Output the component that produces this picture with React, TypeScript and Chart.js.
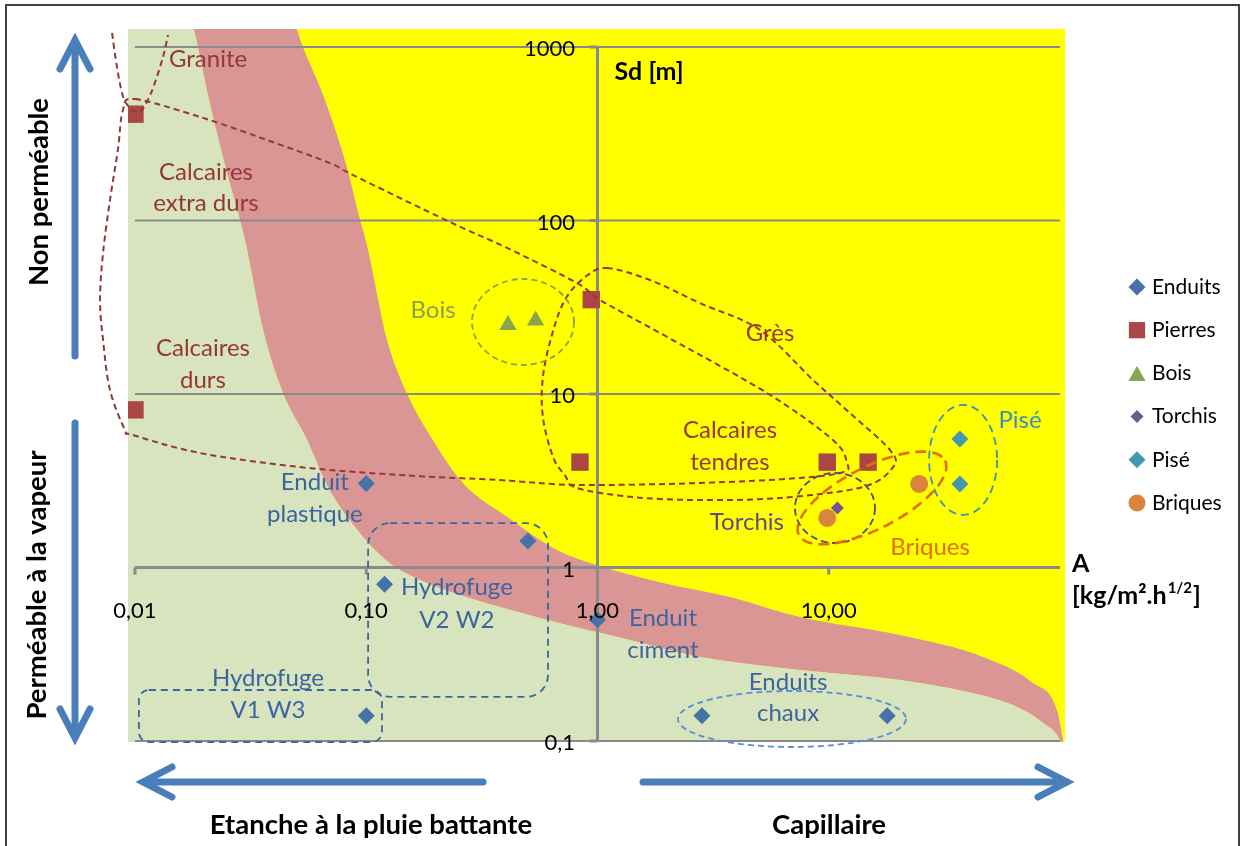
import React, { useEffect, useRef } from 'react';
import { Chart, registerables } from 'chart.js';

Chart.register(...registerables);

const FONT = 'Lato, "Open Sans", "DejaVu Sans", sans-serif';

// ---- axes ----
const xMin = 0.00933;
const xMax = 105.1;
const yMin = 0.0987;
const yMax = 1270;
const xTickValues = [0.01, 0.1, 1, 10];
const xTickLabels = ['0,01', '0,10', '1,00', '10,00'];
const yTickValues = [0.1, 1, 10, 100, 1000];
const yTickLabels = ['0,1', '1', '10', '100', '1000'];
const yLabelAnchor = 0.8; // x value where the Sd tick labels end

// ---- background zones ----
const greenEdgeX = [0.00933, 0.0163, 0.018, 0.0209, 0.0248, 0.0299, 0.0358, 0.0437, 0.0555, 0.0676, 0.0894, 0.121, 0.171, 0.254, 0.379, 0.709, 1.38, 2.78, 7.51, 20.3, 39.6, 65.2, 84.5, 100, 106.2];
const greenEdgeY = [4137, 1916, 1253, 495, 196, 77.2, 23.4, 10.1, 5.43, 2.99, 1.71, 1.11, 0.847, 0.694, 0.592, 0.472, 0.382, 0.305, 0.257, 0.225, 0.192, 0.157, 0.127, 0.101, 0.078];
const pinkEdgeX = [0.00933, 0.0191, 0.0459, 0.0502, 0.0663, 0.0825, 0.094, 0.1007, 0.123, 0.15, 0.194, 0.262, 0.406, 0.668, 0.995, 1.92, 3.74, 7.51, 20.3, 46.5, 76.4, 97.0, 103, 106.2];
const pinkEdgeY = [5395, 3173, 1968, 1253, 495, 203, 101, 72.3, 20.5, 10.1, 5.43, 3.07, 1.96, 1.26, 1.03, 0.814, 0.676, 0.518, 0.408, 0.305, 0.216, 0.151, 0.101, 0.078];

// ---- series ----
const enduitsX = [0.1, 0.5, 0.12, 1, 0.1, 2.83, 17.9];
const enduitsY = [3.05, 1.42, 0.8, 0.5, 0.14, 0.14, 0.14];
const pierresX = [0.01, 0.01, 0.94, 0.84, 9.85, 14.8];
const pierresY = [410, 8.1, 35, 4.05, 4.05, 4.05];
const boisX = [0.41, 0.54];
const boisY = [25, 26.5];
const torchisX = [10.9];
const torchisY = [2.2];
const piseX = [36.9, 36.9];
const piseY = [5.5, 3.03];
const briquesX = [24.6, 9.85];
const briquesY = [3.03, 1.93];

const RED = '#953735';
const OLIVE = '#8CA046';
const BLUE = '#3C65A0';
const PURPLE = '#5F4A8B';
const ORANGE = '#E46C0A';
const TEAL = '#3A93B3';

// ---- annotations (log10 coordinates) ----
const granitePath = [[-2.099, 3.081], [-2.078, 2.885], [-2.056, 2.735], [-2.039, 2.677], [-2.009, 2.637], [-1.978, 2.625], [-1.944, 2.695], [-1.914, 2.793], [-1.879, 2.942], [-1.857, 3.069]];
const calcairesPath = [[-2.0, 2.7], [-1.719, 2.597], [-1.429, 2.464], [-1.157, 2.331], [-1.057, 2.262], [-0.638, 1.991], [-0.391, 1.842], [-0.089, 1.64], [0.011, 1.542], [0.301, 1.329], [0.733, 1.006], [1.018, 0.735], [1.079, 0.602], [1.062, 0.55], [0.876, 0.516], [0.443, 0.487], [-0.089, 0.476], [-0.422, 0.504], [-0.854, 0.533], [-1.286, 0.579], [-1.719, 0.66], [-2.009, 0.764], [-2.043, 0.793], [-2.108, 1.023], [-2.138, 1.311], [-2.151, 1.542], [-2.138, 1.813], [-2.108, 2.118], [-2.074, 2.406], [-2.052, 2.637]];
const gresPath = [[0.041, 1.726], [0.227, 1.657], [0.443, 1.524], [0.703, 1.369], [0.932, 1.081], [1.092, 0.89], [1.265, 0.677], [1.278, 0.579], [1.148, 0.464], [0.789, 0.401], [0.443, 0.389], [0.154, 0.406], [-0.089, 0.458], [-0.141, 0.533], [-0.192, 0.637], [-0.236, 0.867], [-0.236, 1.098], [-0.197, 1.34], [-0.141, 1.542], [-0.054, 1.674]];

const ellipses = [
  { lx: -0.322, ly: 1.415, rx: 51, ry: 43, rot: 0, color: OLIVE, width: 1.8, dash: [6, 4] },
  { lx: 1.027, ly: 0.343, rx: 40, ry: 35, rot: 0, color: '#4B4A86', width: 1.8, dash: [7, 4] },
  { lx: 1.187, ly: 0.401, rx: 82, ry: 31, rot: -27, color: ORANGE, width: 2.6, dash: [11, 6] },
  { lx: 1.581, ly: 0.62, rx: 34, ry: 55, rot: 0, color: TEAL, width: 1.8, dash: [8, 5] },
  { lx: 0.841, ly: -0.873, rx: 114, ry: 28, rot: 0, color: '#558ED5', width: 1.8, dash: [6, 4] },
];
const boxes = [
  { lx1: -0.992, lx2: -0.214, ly1: 0.256, ly2: -0.746, r: 22 },
  { lx1: -1.983, lx2: -0.932, ly1: -0.706, ly2: -1.006, r: 10 },
];
const notes = [
  { t: 'Granite', lx: -1.684, ly: 2.931, c: RED },
  { t: 'Calcaires', lx: -1.693, ly: 2.28, c: RED },
  { t: 'extra durs', lx: -1.693, ly: 2.101, c: RED },
  { t: 'Calcaires', lx: -1.706, ly: 1.265, c: RED },
  { t: 'durs', lx: -1.706, ly: 1.081, c: RED },
  { t: 'Bois', lx: -0.711, ly: 1.484, c: OLIVE },
  { t: 'Grès', lx: 0.746, ly: 1.352, c: RED },
  { t: 'Calcaires', lx: 0.573, ly: 0.793, c: RED },
  { t: 'tendres', lx: 0.573, ly: 0.608, c: RED },
  { t: 'Torchis', lx: 0.646, ly: 0.262, c: PURPLE },
  { t: 'Briques', lx: 1.438, ly: 0.118, c: ORANGE },
  { t: 'Pisé', lx: 1.827, ly: 0.85, c: TEAL },
  { t: 'Enduit', lx: -1.222, ly: 0.493, c: BLUE },
  { t: 'plastique', lx: -1.222, ly: 0.308, c: BLUE },
  { t: 'Hydrofuge', lx: -0.608, ly: -0.112, c: BLUE },
  { t: 'V2 W2', lx: -0.608, ly: -0.303, c: BLUE },
  { t: 'Enduit', lx: 0.283, ly: -0.291, c: BLUE },
  { t: 'ciment', lx: 0.283, ly: -0.476, c: BLUE },
  { t: 'Hydrofuge', lx: -1.425, ly: -0.637, c: BLUE },
  { t: 'V1 W3', lx: -1.425, ly: -0.821, c: BLUE },
  { t: 'Enduits', lx: 0.824, ly: -0.66, c: BLUE },
  { t: 'chaux', lx: 0.824, ly: -0.839, c: BLUE },
];

const pts = (xs: number[], ys: number[]) => xs.map((x, i) => ({ x, y: ys[i] }));

function drawMarker(ctx: any, style: string, x: number, y: number, r: number, color: string) {
  ctx.fillStyle = color;
  ctx.beginPath();
  if (style === 'circle') {
    ctx.arc(x, y, r, 0, Math.PI * 2);
  } else if (style === 'rect') {
    const s = r * Math.SQRT1_2;
    ctx.rect(x - s, y - s, 2 * s, 2 * s);
  } else if (style === 'rectRot') {
    ctx.moveTo(x, y - r); ctx.lineTo(x + r, y); ctx.lineTo(x, y + r); ctx.lineTo(x - r, y);
  } else if (style === 'triangle') {
    const yc = y + r / 4;
    ctx.moveTo(x, yc - r);
    ctx.lineTo(x + r * 0.866, yc + r / 2);
    ctx.lineTo(x - r * 0.866, yc + r / 2);
  }
  ctx.closePath();
  ctx.fill();
}

function smoothPath(ctx: any, p: number[][], closed: boolean) {
  const n = p.length;
  const get = (i: number) => (closed ? p[(i + n) % n] : p[Math.max(0, Math.min(n - 1, i))]);
  ctx.beginPath();
  ctx.moveTo(p[0][0], p[0][1]);
  const segs = closed ? n : n - 1;
  for (let i = 0; i < segs; i++) {
    const p0 = get(i - 1), p1 = get(i), p2 = get(i + 1), p3 = get(i + 2);
    const t = 1 / 6;
    ctx.bezierCurveTo(
      p1[0] + (p2[0] - p0[0]) * t, p1[1] + (p2[1] - p0[1]) * t,
      p2[0] - (p3[0] - p1[0]) * t, p2[1] - (p3[1] - p1[1]) * t,
      p2[0], p2[1]
    );
  }
  if (closed) ctx.closePath();
}

function roundBox(ctx: any, x1: number, y1: number, x2: number, y2: number, r: number) {
  ctx.beginPath();
  ctx.moveTo(x1 + r, y1);
  ctx.lineTo(x2 - r, y1);
  ctx.arcTo(x2, y1, x2, y1 + r, r);
  ctx.lineTo(x2, y2 - r);
  ctx.arcTo(x2, y2, x2 - r, y2, r);
  ctx.lineTo(x1 + r, y2);
  ctx.arcTo(x1, y2, x1, y2 - r, r);
  ctx.lineTo(x1, y1 + r);
  ctx.arcTo(x1, y1, x1 + r, y1, r);
  ctx.closePath();
}

function arrow(ctx: any, x1: number, y1: number, x2: number, y2: number) {
  const a = Math.atan2(y2 - y1, x2 - x1);
  const L = 29, W = 15;
  ctx.beginPath();
  ctx.moveTo(x1, y1);
  ctx.lineTo(x2 - Math.cos(a) * 4, y2 - Math.sin(a) * 4);
  ctx.stroke();
  const bx = x2 - Math.cos(a) * L, by = y2 - Math.sin(a) * L;
  const nx = -Math.sin(a) * W, ny = Math.cos(a) * W;
  ctx.beginPath();
  ctx.moveTo(bx + nx, by + ny);
  ctx.lineTo(x2, y2);
  ctx.lineTo(bx - nx, by - ny);
  ctx.stroke();
}

const decorPlugin = {
  id: 'decor',
  beforeDraw(chart: any) {
    const { ctx, chartArea: a } = chart;
    ctx.save();
    ctx.fillStyle = '#FFFFFF';
    ctx.fillRect(0, 0, chart.width, chart.height);
    ctx.strokeStyle = '#404040';
    ctx.lineWidth = 2;
    ctx.strokeRect(6, 5, 1233, 870);
    ctx.fillStyle = '#FFFF00';
    ctx.fillRect(a.left, a.top, a.right - a.left, a.bottom - a.top);
    ctx.restore();
  },
  beforeDatasetsDraw(chart: any) {
    const { ctx } = chart;
    const xs = chart.scales.x, ys = chart.scales.y;
    const xl = xs.getPixelForValue(0.01), xr = xs.getPixelForValue(100);
    const x1 = xs.getPixelForValue(1), y1 = ys.getPixelForValue(1);
    ctx.save();
    ctx.strokeStyle = '#8A8A8A';
    ys.ticks.forEach((t: any) => {
      if (t.value === 1) return;
      const y = ys.getPixelForValue(t.value);
      ctx.lineWidth = 2;
      ctx.beginPath(); ctx.moveTo(xl, y); ctx.lineTo(xr, y); ctx.stroke();
    });
    ctx.lineWidth = 3;
    ctx.beginPath(); ctx.moveTo(xl, y1); ctx.lineTo(xr, y1); ctx.stroke();
    ctx.beginPath(); ctx.moveTo(x1, ys.getPixelForValue(1000)); ctx.lineTo(x1, ys.getPixelForValue(0.1)); ctx.stroke();
    ys.ticks.forEach((t: any) => {
      const y = ys.getPixelForValue(t.value);
      ctx.beginPath(); ctx.moveTo(x1 - 8, y); ctx.lineTo(x1, y); ctx.stroke();
    });
    xs.ticks.forEach((t: any) => {
      const x = xs.getPixelForValue(t.value);
      ctx.beginPath(); ctx.moveTo(x, y1); ctx.lineTo(x, y1 + 7); ctx.stroke();
    });
    ctx.restore();
  },
  afterDatasetsDraw(chart: any) {
    const { ctx, chartArea: a } = chart;
    const xs = chart.scales.x, ys = chart.scales.y;
    const P = (lx: number, ly: number) => [xs.getPixelForValue(Math.pow(10, lx)), ys.getPixelForValue(Math.pow(10, ly))];
    ctx.save();
    // dashed outlines
    ctx.lineWidth = 2;
    ctx.strokeStyle = RED;
    ctx.setLineDash([6, 4]);
    smoothPath(ctx, granitePath.map((q) => P(q[0], q[1])), false);
    ctx.stroke();
    smoothPath(ctx, calcairesPath.map((q) => P(q[0], q[1])), true);
    ctx.stroke();
    smoothPath(ctx, gresPath.map((q) => P(q[0], q[1])), true);
    ctx.stroke();
    ellipses.forEach((e) => {
      const [cx, cy] = P(e.lx, e.ly);
      ctx.strokeStyle = e.color;
      ctx.lineWidth = e.width;
      ctx.setLineDash(e.dash);
      ctx.beginPath();
      ctx.ellipse(cx, cy, e.rx, e.ry, (e.rot * Math.PI) / 180, 0, Math.PI * 2);
      ctx.stroke();
    });
    ctx.strokeStyle = BLUE;
    ctx.lineWidth = 1.8;
    ctx.setLineDash([7, 5]);
    boxes.forEach((b) => {
      const [bx1, by1] = P(b.lx1, b.ly1);
      const [bx2, by2] = P(b.lx2, b.ly2);
      roundBox(ctx, bx1, by1, bx2, by2, b.r);
      ctx.stroke();
    });
    ctx.setLineDash([]);
    // notes
    ctx.textAlign = 'center';
    ctx.textBaseline = 'middle';
    ctx.font = `24px ${FONT}`;
    notes.forEach((n) => {
      const [x, y] = P(n.lx, n.ly);
      ctx.fillStyle = n.c;
      ctx.fillText(n.t, x, y);
    });
    // axis titles
    ctx.fillStyle = '#000000';
    ctx.font = `bold 25px ${FONT}`;
    const [sx, sy] = P(0.223, 2.856);
    ctx.fillText('Sd [m]', sx, sy);
    const ax = a.right + 7;
    const ay = ys.getPixelForValue(1);
    ctx.textAlign = 'left';
    ctx.fillText('A', ax, ay - 4);
    const part1 = '[kg/m².h';
    ctx.fillText(part1, ax, ay + 28);
    let w = ctx.measureText(part1).width;
    ctx.font = `bold 15px ${FONT}`;
    ctx.fillText('1/2', ax + w + 1, ay + 21);
    w += ctx.measureText('1/2').width + 2;
    ctx.font = `bold 25px ${FONT}`;
    ctx.fillText(']', ax + w, ay + 28);
    // legend
    const series = chart.data.datasets.filter((d: any) => d.inLegend);
    const rowH = 43.2;
    const midY = (a.top + a.bottom) / 2 + 9.5;
    ctx.font = `21px ${FONT}`;
    series.forEach((d: any, i: number) => {
      const y = midY + (i - (series.length - 1) / 2) * rowH;
      const r = d.pointStyle === 'rect' ? 11.5 : d.pointStyle === 'circle' ? 8.5 : d.pointRadius;
      drawMarker(ctx, d.pointStyle, a.right + 72, y, r, d.pointBackgroundColor);
      ctx.fillStyle = '#000000';
      ctx.textAlign = 'left';
      ctx.fillText(d.label, a.right + 87, y);
    });
    // outside arrows
    ctx.strokeStyle = '#4A7EBB';
    ctx.lineWidth = 7;
    ctx.lineCap = 'round';
    ctx.lineJoin = 'miter';
    arrow(ctx, 75, 356, 75, 40);
    arrow(ctx, 75, 423, 75, 738);
    arrow(ctx, 483, 782, 143, 782);
    arrow(ctx, 643, 782, 1067, 782);
    ctx.fillStyle = '#000000';
    ctx.font = `bold 27.5px ${FONT}`;
    ctx.textAlign = 'center';
    ctx.fillText('Etanche à la pluie battante', 371, 825);
    ctx.fillText('Capillaire', 829, 825);
    ctx.save();
    ctx.translate(39, 192);
    ctx.rotate(-Math.PI / 2);
    ctx.fillText('Non perméable', 0, 0);
    ctx.restore();
    ctx.save();
    ctx.translate(37, 585);
    ctx.rotate(-Math.PI / 2);
    ctx.fillText('Perméable à la vapeur', 0, 0);
    ctx.restore();
    ctx.restore();
  },
};

function markerSet(label: string, xs: number[], ys: number[], style: string, radius: number, color: string, order: number) {
  return {
    label,
    data: pts(xs, ys),
    showLine: false,
    pointStyle: style,
    pointRadius: radius,
    pointHoverRadius: radius,
    pointBackgroundColor: color,
    pointBorderColor: color,
    pointBorderWidth: 0,
    borderColor: color,
    backgroundColor: color,
    fill: false,
    order,
    inLegend: true,
  };
}

export default function App() {
  const ref = useRef<HTMLCanvasElement>(null);
  useEffect(() => {
    document.body.style.margin = '0';
    const zone = {
      borderColor: 'rgba(0,0,0,0)',
      borderWidth: 0,
      pointRadius: 0,
      pointHoverRadius: 0,
      cubicInterpolationMode: 'monotone',
      capBezierPoints: false,
      order: 20,
    };
    const chart = new Chart(ref.current as HTMLCanvasElement, {
      type: 'line',
      data: {
        datasets: [
          { ...zone, label: 'zone verte', data: pts(greenEdgeX, greenEdgeY), fill: 'start', backgroundColor: '#D7E4BD' },
          { ...zone, label: 'zone rose', data: pts(pinkEdgeX, pinkEdgeY), fill: '-1', backgroundColor: '#D99694' },
          markerSet('Enduits', enduitsX, enduitsY, 'rectRot', 8.5, '#4572A7', 6),
          markerSet('Pierres', pierresX, pierresY, 'rect', 12.3, '#AA4643', 5),
          markerSet('Bois', boisX, boisY, 'triangle', 10, '#89A54E', 4),
          markerSet('Torchis', torchisX, torchisY, 'rectRot', 6.5, '#71588F', 3),
          markerSet('Pisé', piseX, piseY, 'rectRot', 8.5, '#4198AF', 2),
          markerSet('Briques', briquesX, briquesY, 'circle', 9, '#DB843D', 1),
        ] as any,
      },
      options: {
        responsive: false,
        maintainAspectRatio: false,
        devicePixelRatio: 1,
        animation: false,
        events: [],
        layout: { padding: { left: 128, right: 178, top: 29, bottom: 104 } },
        plugins: {
          legend: { display: false },
          tooltip: { enabled: false },
          filler: { drawTime: 'beforeDatasetsDraw' },
        },
        scales: {
          x: {
            type: 'logarithmic',
            min: xMin,
            max: xMax,
            bounds: 'data',
            position: { y: 1 },
            grid: { display: false, drawTicks: false, z: 1 },
            border: { display: false, z: 1 },
            afterBuildTicks: (s: any) => { s.ticks = xTickValues.map((v) => ({ value: v })); },
            ticks: {
              z: 1,
              autoSkip: false,
              maxRotation: 0,
              minRotation: 0,
              padding: 30,
              color: '#000000',
              font: { family: FONT, size: 22 },
              callback: (_v: any, i: number) => xTickLabels[i],
            },
          },
          y: {
            type: 'logarithmic',
            min: yMin,
            max: yMax,
            bounds: 'data',
            position: { x: yLabelAnchor },
            grid: { display: false, drawTicks: false, z: 1 },
            border: { display: false, z: 1 },
            afterBuildTicks: (s: any) => { s.ticks = yTickValues.map((v) => ({ value: v })); },
            ticks: {
              z: 1,
              autoSkip: false,
              padding: 0,
              labelOffset: 2,
              color: '#000000',
              font: { family: FONT, size: 22 },
              callback: (_v: any, i: number) => yTickLabels[i],
            },
          },
        } as any,
      },
      plugins: [decorPlugin],
    } as any);
    return () => chart.destroy();
  }, []);
  return (
    <div style={{ width: 1243, height: 846 }}>
      <canvas ref={ref} width={1243} height={846} style={{ display: 'block', width: 1243, height: 846 }} />
    </div>
  );
}
